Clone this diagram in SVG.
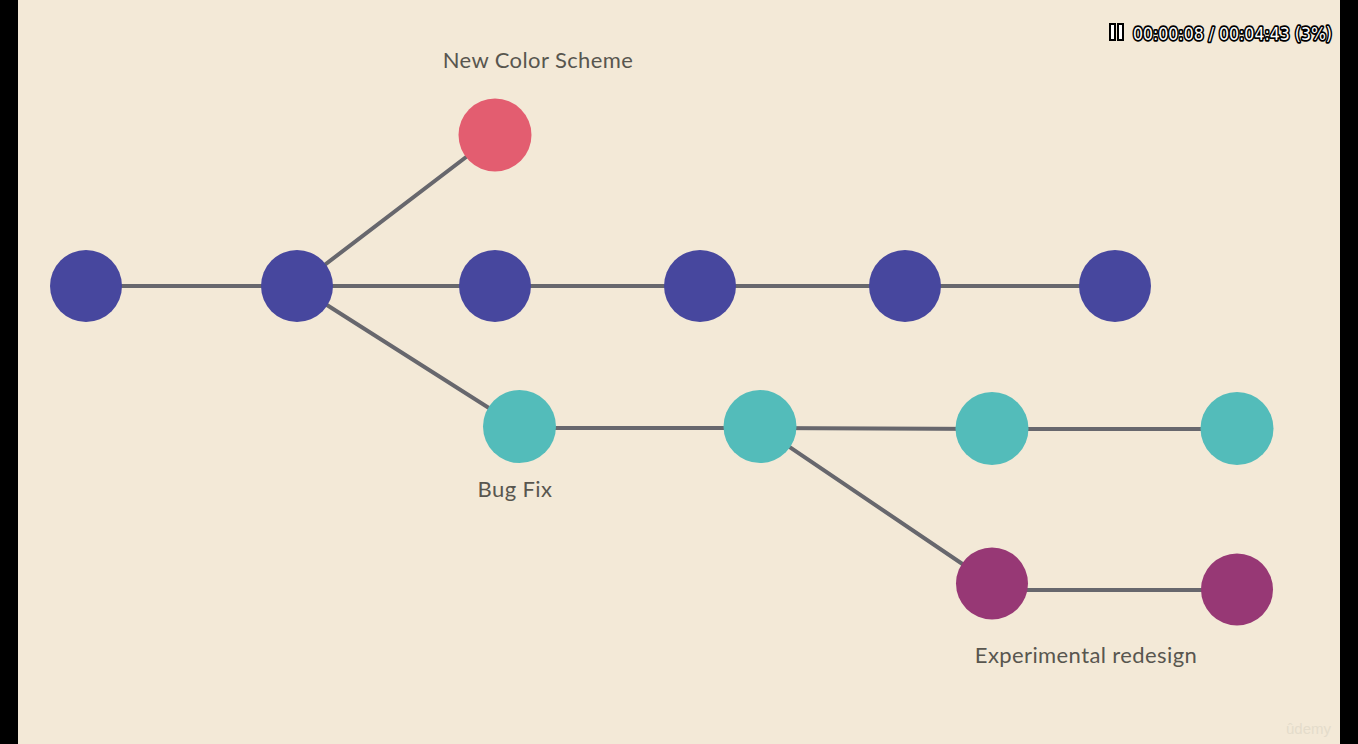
<svg xmlns="http://www.w3.org/2000/svg" width="1358" height="744" viewBox="0 0 1358 744">
  <style>
    .edge { stroke: #67676d; stroke-width: 4; fill: none; stroke-linecap: round; }
    .main { fill: #47479e; }
    .color { fill: #e35d70; }
    .fix { fill: #53bcba; }
    .exp { fill: #973875; }
    .label { font-family: "Lato", "Noto Sans", sans-serif; font-size: 22px; fill: #58564f; text-anchor: middle; letter-spacing: 0.4px; }
    .hud { font-family: "DejaVu Sans", "Liberation Sans", sans-serif; font-size: 18px; fill: #ffffff; stroke: #000000; stroke-width: 3.5; paint-order: stroke; stroke-linejoin: round; }
  </style>

  <!-- letterbox and canvas -->
  <rect x="0" y="0" width="1358" height="744" fill="#000000"/>
  <rect x="18" y="0" width="1322" height="744" fill="#f3e9d7"/>

  <!-- connectors -->
  <g id="connectors">
    <line class="edge" x1="86" y1="286" x2="297" y2="286"/>
    <line class="edge" x1="297" y1="286" x2="1115" y2="286"/>
    <line class="edge" x1="297" y1="286" x2="495" y2="135"/>
    <line class="edge" x1="297" y1="286" x2="519" y2="427"/>
    <line class="edge" x1="519" y1="428" x2="760" y2="428"/>
    <line class="edge" x1="760" y1="428" x2="992" y2="429"/>
    <line class="edge" x1="992" y1="429" x2="1237" y2="429"/>
    <line class="edge" x1="760" y1="427" x2="992" y2="584"/>
    <line class="edge" x1="992" y1="590" x2="1237" y2="590"/>
  </g>

  <!-- main line commits -->
  <g id="main-1"><circle class="main" cx="86" cy="286" r="36"/></g>
  <g id="main-2"><circle class="main" cx="297" cy="286" r="36"/></g>
  <g id="main-3"><circle class="main" cx="495" cy="286" r="36"/></g>
  <g id="main-4"><circle class="main" cx="700" cy="286" r="36"/></g>
  <g id="main-5"><circle class="main" cx="905" cy="286" r="36"/></g>
  <g id="main-6"><circle class="main" cx="1115" cy="286" r="36"/></g>

  <!-- colour scheme branch -->
  <g id="color-1">
    <circle class="color" cx="495" cy="135" r="36.5"/>
    <text class="label" x="538" y="68">New Color Scheme</text>
  </g>

  <!-- bug fix branch -->
  <g id="fix-1">
    <circle class="fix" cx="519.5" cy="426.5" r="36.5"/>
    <text class="label" x="515" y="497">Bug Fix</text>
  </g>
  <g id="fix-2"><circle class="fix" cx="760" cy="426.5" r="36.5"/></g>
  <g id="fix-3"><circle class="fix" cx="992" cy="428.5" r="36.5"/></g>
  <g id="fix-4"><circle class="fix" cx="1237" cy="428.5" r="36.5"/></g>

  <!-- experimental branch -->
  <g id="exp-1">
    <circle class="exp" cx="992" cy="583.5" r="36"/>
    <text class="label" x="1086" y="663">Experimental redesign</text>
  </g>
  <g id="exp-2"><circle class="exp" cx="1237" cy="589.5" r="36"/></g>

  <!-- player overlay -->
  <g id="player-status">
    <rect x="1110" y="24" width="5" height="16" fill="#ffffff" stroke="#000000" stroke-width="2"/>
    <rect x="1118" y="24" width="5" height="16" fill="#ffffff" stroke="#000000" stroke-width="2"/>
    <text class="hud" x="1133" y="40" textLength="199" lengthAdjust="spacingAndGlyphs">00:00:08 / 00:04:43 (3%)</text>
  </g>
  <text x="1331" y="734" text-anchor="end" font-family="Liberation Sans, sans-serif" font-size="15" fill="#e4dccb">ûdemy</text>
</svg>
